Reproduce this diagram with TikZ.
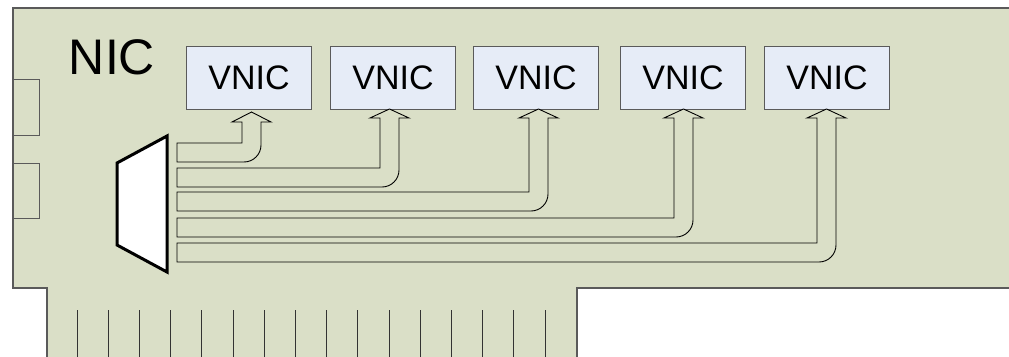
\documentclass[tikz,border=0pt]{standalone}
\usepackage{fontspec}
\setmainfont{Liberation Sans}
\definecolor{board}{RGB}{218,223,199}
\definecolor{boardline}{RGB}{90,90,90}
\definecolor{vnicfill}{RGB}{230,236,247}
\tikzset{
  vnicbox/.style={draw=boardline, line width=1pt, fill=vnicfill, minimum width=125pt,
    minimum height=63pt, inner sep=0pt, anchor=north west, font=\fontsize{34}{34}\selectfont},
  blockarrow/.style={draw=black, line width=0.9pt, fill=board, line join=miter},
  slotline/.style={draw=black!80, line width=1pt},
  portbox/.style={draw=boardline, line width=1pt, fill=board}
}
\begin{document}
\begin{tikzpicture}[x=1pt,y=-1pt]
\useasboundingbox (0,0) rectangle (1009,356);
\clip (0,0) rectangle (1009,356);
% board
\draw[fill=board, draw=boardline, line width=1.5pt]
  (47,362) -- (47,288) -- (13,288) -- (13,8) -- (1015,8) -- (1015,288) -- (577,288) -- (577,362);
% side ports
\draw[portbox] (13,79) rectangle (39,135);
\draw[portbox] (13,163) rectangle (39,218);
% slot lines
\foreach \i in {0,...,15} {
  \draw[slotline] ({77+31.2*\i},310) -- ({77+31.2*\i},358);
}
% NIC label
\node[font=\fontsize{50}{50}\selectfont, anchor=base, inner sep=0pt] (nic) at (112,74) {NIC};
% VNIC boxes
\node[vnicbox] (v1) at (186,46) {VNIC};
\node[vnicbox] (v2) at (330,46) {VNIC};
\node[vnicbox] (v3) at (473,46) {VNIC};
\node[vnicbox] (v4) at (620,46) {VNIC};
\node[vnicbox] (v5) at (764,46) {VNIC};
% connector (trapezoid)
\draw[fill=white, draw=black, line width=3pt, line join=miter] (117,163) -- (167,136) -- (167,272) -- (117,245) -- cycle;
% block arrows: top y, inner x, tip y, base y
\foreach \T/\I/\tip/\base in {143/242/112/122, 168/380/109/118, 192/529/109/118, 218/674/109/118, 243/817/109/118} {
  \pgfmathsetmacro{\B}{\T+19}
  \pgfmathsetmacro{\O}{\I+19}
  \pgfmathsetmacro{\Tx}{\I+9.5}
  \pgfmathsetmacro{\Lw}{\I-10}
  \pgfmathsetmacro{\Rw}{\O+10}
  \pgfmathsetmacro{\Om}{\B-30}
  \draw[blockarrow] (177,\T) -- (\I,\T) -- (\I,\base) -- (\Lw,\base) -- (\Tx,\tip) -- (\Rw,\base) -- (\O,\base) -- (\O,\Om)
    [rounded corners=17pt] -- (\O,\B) -- (220,\B) [sharp corners] -- (177,\B) -- cycle;
}
\end{tikzpicture}
\end{document}
